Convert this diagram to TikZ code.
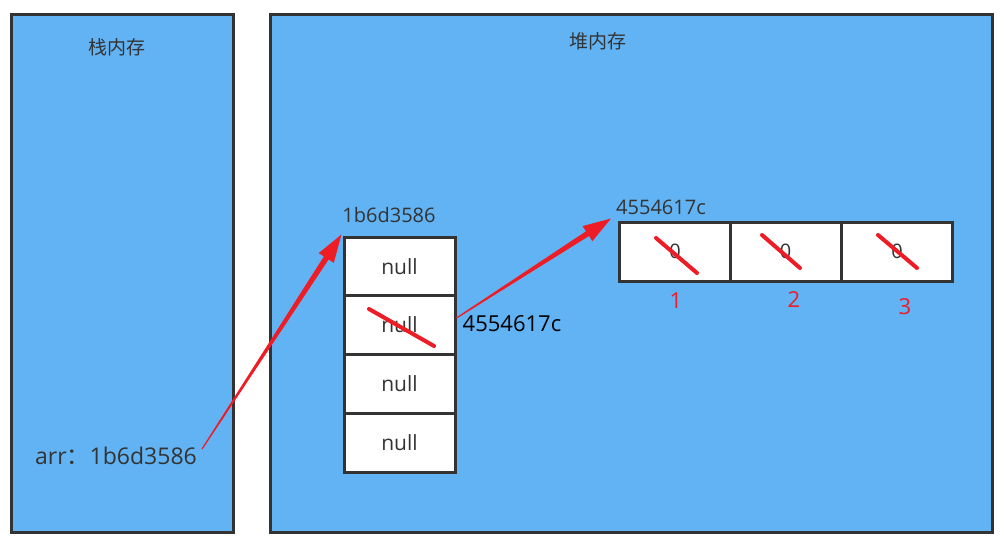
\documentclass[tikz,border=0pt]{standalone}
\usepackage{fontspec}
\setmainfont{Open Sans}
\newfontfamily\cjk{Noto Sans CJK SC}
\usetikzlibrary{calc}
\definecolor{bgblue}{HTML}{62B3F4}
\definecolor{edge}{HTML}{333333}
\definecolor{mred}{HTML}{EE1C25}
\definecolor{txt}{HTML}{333333}
\tikzset{
  region/.style={draw=edge,line width=3pt,fill=bgblue},
  cell/.style={draw=edge,line width=3pt,fill=white,minimum width=111pt,minimum height=59pt,inner sep=0pt,font=\fontsize{21}{24}\selectfont,text=txt},
  acell/.style={draw=edge,line width=3pt,fill=white,minimum width=111pt,minimum height=59pt,inner sep=0pt,font=\fontsize{20}{24}\selectfont,text=txt},
  lbl/.style={font=\fontsize{20}{24}\selectfont,text=txt,inner sep=0pt},
  cjklbl/.style={font=\cjk\fontsize{19}{22}\selectfont,text=txt,inner sep=0pt},
  biglbl/.style={font=\fontsize{22}{26}\selectfont,inner sep=0pt},
  redlbl/.style={font=\fontsize{22}{26}\selectfont,text=mred,inner sep=0pt},
  strike/.style={draw=mred,line width=4pt,line cap=round},
}
\newcommand{\taperarrow}[2]{%
  \coordinate (tmpB) at ($(#2)!28pt!(#1)$);
  \fill[mred] ($(#1)!0.6pt!90:(#2)$) -- ($(tmpB)!2.8pt!-90:(#1)$) -- ($(tmpB)!9pt!-90:(#1)$) -- (#2)
     -- ($(tmpB)!9pt!90:(#1)$) -- ($(tmpB)!2.8pt!90:(#1)$) -- ($(#1)!0.6pt!-90:(#2)$) -- cycle;
}
\begin{document}
\begin{tikzpicture}[x=1pt,y=-1pt]
\useasboundingbox (0,0) rectangle (1004,546);
\fill[white] (0,0) rectangle (1004,546);
% regions
\draw[region] (11,14) rectangle (233,532);
\draw[region] (270,14) rectangle (992,532);
\node[cjklbl] (stack) at (117,47) {栈内存};
\node[cjklbl] (heap) at (598,41) {堆内存};
% stack variable
\node[lbl,font=\fontsize{23}{27}\selectfont] (arr) at (116,456) {arr{\cjk ：}1b6d3586};
% outer array cells
\node[cell] (c1) at (399.5,266.5) {null};
\node[cell] (c2) at (399.5,325) {null};
\node[cell] (c3) at (399.5,383.5) {null};
\node[cell] (c4) at (399.5,442.5) {null};
\node[lbl] (addr1) at (389,215) {1b6d3586};
\node[biglbl] (addr2) at (512,324) {4554617c};
% inner array
\node[acell] (a1) at (675,251.5) {0};
\node[acell] (a2) at (785.5,251.5) {0};
\node[acell] (a3) at (897,251.5) {0};
\node[lbl] (addr3) at (661,207) {4554617c};
\node[redlbl] (n1) at (676,301) {1};
\node[redlbl] (n2) at (794,300) {2};
\node[redlbl] (n3) at (905,307) {3};
% strikes
\draw[strike] (369,309) -- (434,346);
\draw[strike] (656,238) -- (697,273);
\draw[strike] (762,235) -- (800,268);
\draw[strike] (878,235) -- (917,268);
% arrows
\coordinate (s1) at ($(arr.east)+(5,-7)$);
\coordinate (t1) at ($(c1.north west)+(-1,-1)$);
\coordinate (s2) at ($(c2.east)+(0,-7)$);
\coordinate (t2) at ($(a1.north west)+(-7,-2)$);
\taperarrow{s1}{t1}
\taperarrow{s2}{t2}
\end{tikzpicture}
\end{document}
